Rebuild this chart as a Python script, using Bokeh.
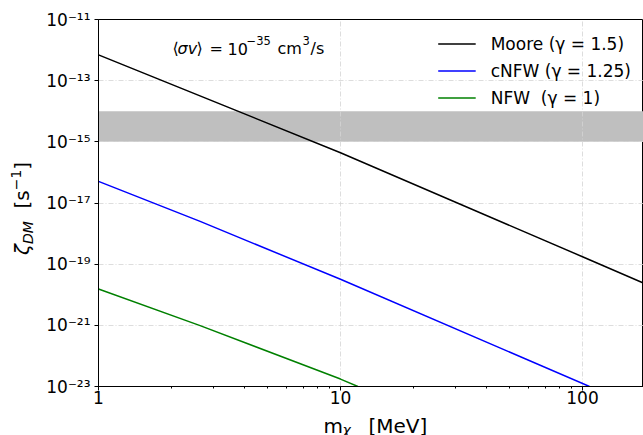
import math
from bokeh.plotting import figure
from bokeh.layouts import row
from bokeh.models import (FixedTicker, CustomJSTickFormatter, BoxAnnotation, Label,
                          Legend, LegendItem, Range1d, Div)
from bokeh.embed import file_html
from bokeh.resources import INLINE

# ---------------- data ----------------
mass_moore = [1.0, 10.0, 100.0, 178.7]
zeta_moore = [7.0e-13, 4.4e-16, 1.75e-19, 2.4e-20]

mass_cnfw = [1.0, 2.63, 10.0, 106.9]
zeta_cnfw = [5.1e-17, 2.5e-18, 3.2e-20, 1.0e-23]

mass_nfw = [1.0, 2.63, 10.0, 11.8]
zeta_nfw = [1.55e-20, 9.8e-22, 1.75e-23, 1.0e-23]

band_low = 1e-15
band_high = 1e-14

x_ticks = [1, 10, 100]
x_minor = [2, 3, 4, 5, 6, 7, 8, 9, 20, 30, 40, 50, 60, 70, 80, 90]
y_ticks = [1e-23, 1e-21, 1e-19, 1e-17, 1e-15, 1e-13, 1e-11]

NB = "\u00a0"
series_labels = ["Moore (γ = 1.5)", "cNFW (γ = 1.25)", "NFW" + NB + NB + "(γ = 1)"]

# ---------------- layout ----------------
W, H = 643, 435
YLAB_W = 40
LEFT, TOP, BOTTOM, RIGHT = 98, 19, 49, 0   # frame position in the whole page
XMIN, XMAX = 1.0, 178.7
YMIN, YMAX = 1e-23, 1e-11
FW = W - LEFT - RIGHT
FH = H - TOP - BOTTOM
FONT = "DejaVu Sans"


def dx(px):
    lx0, lx1 = math.log10(XMIN), math.log10(XMAX)
    return 10 ** (lx0 + (px - LEFT) / FW * (lx1 - lx0))


def dy(py):
    ly0, ly1 = math.log10(YMIN), math.log10(YMAX)
    return 10 ** (ly1 - (py - TOP) / FH * (ly1 - ly0))


fig = figure(width=W - YLAB_W, height=H, x_axis_type="log", y_axis_type="log",
             x_range=Range1d(XMIN, XMAX), y_range=Range1d(YMIN, YMAX),
             output_backend="svg", toolbar_location=None,
             min_border_left=LEFT - YLAB_W, min_border_top=TOP,
             min_border_bottom=BOTTOM, min_border_right=RIGHT)
fig.background_fill_color = "white"
fig.border_fill_color = "white"
fig.outline_line_color = "black"
fig.outline_line_width = 1

# band
fig.add_layout(BoxAnnotation(bottom=band_low, top=band_high, fill_color="#bfbfbf",
                             fill_alpha=1.0, line_alpha=0, level="image"))

# axes / ticks
fig.xaxis.ticker = FixedTicker(ticks=x_ticks, minor_ticks=x_minor)
fig.yaxis.ticker = FixedTicker(ticks=y_ticks, minor_ticks=[])
fig.xaxis.formatter = CustomJSTickFormatter(code="return String(Math.round(tick));")
fig.yaxis.formatter = CustomJSTickFormatter(code="""
const sup = {'0':'⁰','1':'¹','2':'²','3':'³','4':'⁴','5':'⁵','6':'⁶','7':'⁷','8':'⁸','9':'⁹','-':'⁻'};
const e = Math.round(Math.log10(tick));
let s = '';
for (const c of String(e)) { s += sup[c]; }
return '10' + s;
""")
for ax in (fig.xaxis, fig.yaxis):
    ax.axis_line_color = "black"
    ax.axis_line_width = 1
    ax.major_tick_line_color = "black"
    ax.minor_tick_line_color = "black"
    ax.major_tick_out = 4
    ax.major_tick_in = 0
    ax.minor_tick_out = 2
    ax.minor_tick_in = 0
    ax.major_label_text_font = FONT
    ax.major_label_text_font_size = "17px"
    ax.major_label_text_color = "black"
    ax.axis_label = None
fig.xaxis.major_label_standoff = 0
fig.yaxis.major_label_standoff = 4

# grid
for g in (fig.xgrid, fig.ygrid):
    g.grid_line_color = "#d4d4d4"
    g.grid_line_width = 1
    g.grid_line_dash = "5 2 1 2"
    g.grid_line_alpha = 0.8
fig.xgrid.ticker = FixedTicker(ticks=x_ticks)
fig.ygrid.ticker = FixedTicker(ticks=y_ticks)

# lines
r_moore = fig.line(mass_moore, zeta_moore, line_color="black", line_width=1.5)
r_cnfw = fig.line(mass_cnfw, zeta_cnfw, line_color="#0000ff", line_width=1.5)
r_nfw = fig.line(mass_nfw, zeta_nfw, line_color="#008000", line_width=1.5)

legend = Legend(items=[LegendItem(label=series_labels[0], renderers=[r_moore]),
                       LegendItem(label=series_labels[1], renderers=[r_cnfw]),
                       LegendItem(label=series_labels[2], renderers=[r_nfw])],
                location="top_right")
legend.background_fill_alpha = 0
legend.border_line_alpha = 0
legend.label_text_font = FONT
legend.label_text_font_size = "17px"
legend.label_text_color = "black"
legend.glyph_width = 38
legend.glyph_height = 25
legend.label_height = 25
legend.spacing = 2
legend.label_standoff = 15
legend.padding = 0
legend.margin = 12
fig.add_layout(legend)


def lab(px, py, text, size="16px", style="normal", where=None):
    lbl = Label(x=dx(px), y=dy(py), text=text, text_font=FONT, text_font_size=size,
                text_font_style=style, text_color="black",
                text_align="left", text_baseline="alphabetic")
    if where is None:
        fig.add_layout(lbl)
    else:
        fig.add_layout(lbl, where)


# annotation ⟨σv⟩ = 10⁻³⁵ cm³/s (inside the frame)
lab(172, 48, "⟨")
lab(177, 48, "σv", style="italic")
lab(196, 48, "⟩")
lab(209, 48, "=")
lab(227, 48, "10")
lab(246, 40, "−35", size="11.5px")
lab(277, 48, "cm")
lab(302, 40, "3", size="11.5px")
lab(310, 48, "/s")

# x-axis label m_χ  [MeV]
lab(323, 425, "m" + NB * 4 + "[MeV]", size="20px", where="below")
lab(342, 429, "χ", size="14px", style="italic", where="above")

# y-axis label ζ_DM  [s⁻¹] in a narrow html column on the left
ylab_html = (
    '<div style="position:relative;width:%dpx;height:%dpx;">'
    '<span style="position:absolute;left:11.6px;top:255px;transform-origin:0 0;'
    'transform:rotate(-90deg);white-space:nowrap;font-family:\'DejaVu Sans\';'
    'font-size:20px;line-height:20px;color:black;">'
    '<i>ζ</i><span style="font-size:14px;position:relative;top:4px;"><i>DM</i></span>'
    '&nbsp;&nbsp;[s<span style="font-size:14px;position:relative;top:-8px;">−1</span>]'
    '</span></div>' % (YLAB_W, H)
)
ydiv = Div(text=ylab_html, width=YLAB_W, height=H, margin=0)

p = row(ydiv, fig, spacing=0)

open("out.html", "w").write(file_html(p, INLINE))
